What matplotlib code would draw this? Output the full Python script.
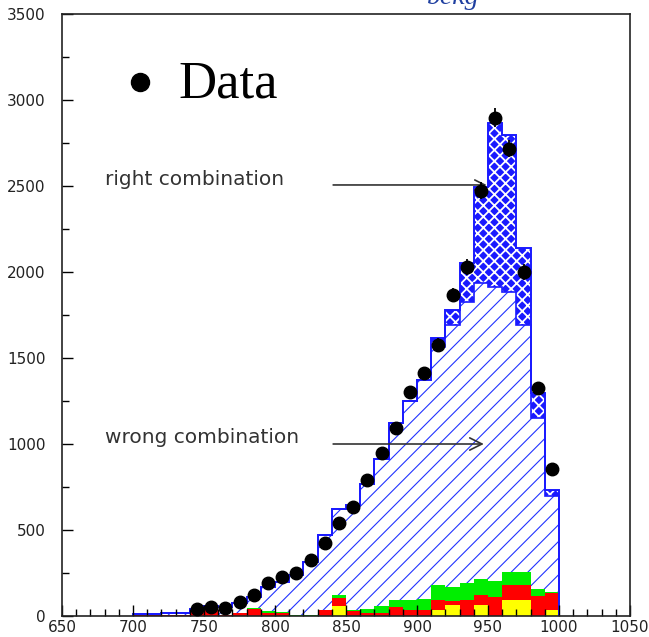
import numpy as np
import matplotlib.pyplot as plt

# histogram bins: 700 .. 1000, width 10
edges = np.arange(700, 1001, 10)

# stacked components (counts per bin)
yellow = [0, 0, 0, 0, 0, 0, 0, 0, 0, 0, 0, 0, 0, 0, 60,
          0, 0, 0, 0, 0, 0, 35, 64, 0, 64, 0, 93, 93, 0, 35]
red = [3, 8, 5, 5, 25, 45, 5, 17, 39, 19, 15, 0, 0, 35, 43,
       31, 19, 19, 50, 35, 35, 58, 25, 93, 58, 109, 87, 87, 116, 97]
green = [0, 0, 0, 0, 0, 0, 0, 0, 9, 10, 9, 6, 6, 0, 19,
         4, 22, 39, 43, 58, 62, 87, 82, 101, 93, 96, 74, 74, 41, 9]
wrong = [9, 4, 10, 15, 17, 15, 49, 57, 64, 142, 172, 232, 310, 436, 498,
         610, 725, 853, 1027, 1159, 1273, 1384, 1521, 1633, 1719, 1710, 1632, 1438, 992, 559]
right = [0, 0, 0, 0, 0, 0, 0, 0, 0, 0, 0, 0, 0, 0, 0,
         0, 0, 0, 0, 0, 0, 50, 87, 223, 560, 949, 911, 446, 146, 33]

# data points from 740 up
data_x = np.arange(745, 1000, 10)
data_y = [39, 50, 48, 83, 122, 194, 229, 252, 326, 426, 542, 635, 791, 946,
          1091, 1302, 1410, 1578, 1866, 2030, 2472, 2897, 2718, 1999, 1325, 852]

fig = plt.figure(figsize=(6.49, 6.37), dpi=100)
ax = fig.add_axes([62/649, 21/637, 568/649, 602/637])

base = np.zeros(len(edges) - 1)
top = base + yellow
ax.stairs(top, edges, baseline=base.copy(), fill=True, color='#ffff00', lw=0)
base = top
top = base + red
ax.stairs(top, edges, baseline=base.copy(), fill=True, color='#ff0000', lw=0)
base = top
top = base + green
ax.stairs(top, edges, baseline=base.copy(), fill=True, color='#00ee00', lw=0)
base = top
top = base + wrong
plt.rcParams['hatch.linewidth'] = 0.8
ax.stairs(top, edges, baseline=base.copy(), fill=True, facecolor='white',
          edgecolor='#2233ff', hatch='//', lw=0)
base = top
top = base + right
plt.rcParams['hatch.linewidth'] = 1.3
ax.stairs(top, edges, baseline=base.copy(), fill=True, facecolor='#1a1aff',
          edgecolor='white', hatch='xxx', lw=0)
# outlines
ax.stairs(base, edges, color='#1a1aff', lw=1.2)
ax.stairs(top, edges, color='#1a1aff', lw=1.4)

ax.errorbar(data_x, data_y, yerr=np.sqrt(data_y), xerr=4, fmt='o', color='black',
            ms=9, elinewidth=1.3, capsize=0, zorder=5)

# labels with arrows
lab_font = dict(fontsize=14.5, color='#333333', family='DejaVu Sans', va='center')
ax.text(680, 2535, 'right combination', **lab_font)
ax.annotate('', xy=(951, 2506), xytext=(839, 2506),
            arrowprops=dict(arrowstyle='->', color='#333333', lw=1.2,
                            mutation_scale=18))
ax.text(680, 1035, 'wrong combination', **lab_font)
ax.annotate('', xy=(949, 1000), xytext=(839, 1000),
            arrowprops=dict(arrowstyle='->', color='#333333', lw=1.2,
                            mutation_scale=22))

ax.plot([705], [3105], 'o', color='black', ms=13)
ax.text(732, 3017, 'Data', fontsize=38, family='Liberation Serif', va='baseline')

# title sits partly above the canvas
fig.text(427/649, 1 - 4/637, 'bckg', fontsize=20, family='Liberation Serif',
         style='italic', color='#1f3fa0', va='baseline')

ax.set_xlim(650, 1050)
ax.set_ylim(0, 3500)
ax.set_xticks(np.arange(650, 1051, 50))
ax.set_xticks(np.arange(650, 1051, 10), minor=True)
ax.set_yticks(np.arange(0, 3501, 500))
ax.set_yticks(np.arange(0, 3501, 250), minor=True)
ax.tick_params(which='both', direction='in', top=False, right=False,
               labelsize=11, labelcolor='#222222', width=1)
ax.tick_params(axis='x', which='major', length=8, pad=3)
ax.tick_params(axis='x', which='minor', length=5)
ax.tick_params(axis='y', which='major', length=8, pad=12)
ax.tick_params(axis='y', which='minor', length=5)
for s in ax.spines.values():
    s.set_linewidth(1.2)
    s.set_color('#222222')

fig.savefig('out.png', dpi=100)
